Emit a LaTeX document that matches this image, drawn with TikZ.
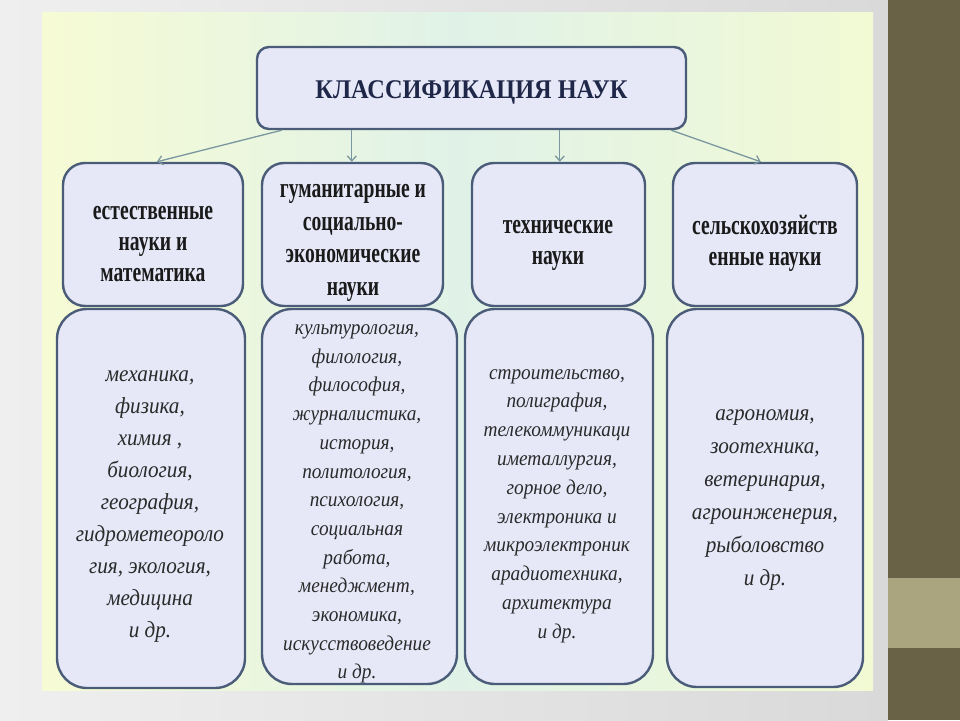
\documentclass[tikz,border=0pt]{standalone}
\usepackage{fontspec}
\setmainfont{Liberation Serif}
\newfontfamily\titlefont[FakeStretch=0.9]{Liberation Serif}
\newfontfamily\headfont[FakeStretch=0.7]{Liberation Serif}
\newfontfamily\listfont[FakeStretch=0.92]{Liberation Serif}
\usetikzlibrary{arrows.meta}
\definecolor{pageL}{HTML}{EFEFEF}
\definecolor{pageR}{HTML}{D9D9D9}
\definecolor{olive}{HTML}{6A6247}
\definecolor{strip}{HTML}{AAA57F}
\definecolor{panelL}{HTML}{F6FBD4}
\definecolor{panelM}{HTML}{E0F2E8}
\definecolor{panelR}{HTML}{F2FAD4}
\definecolor{boxc}{HTML}{E6E8F8}
\definecolor{bordc}{HTML}{4A5C78}
\definecolor{arrc}{HTML}{7A97A0}
\definecolor{titlec}{HTML}{1E2748}
\definecolor{headc}{HTML}{1A1A1A}
\definecolor{listc}{HTML}{2A2A2A}
\tikzset{
  panelbox/.style={draw=bordc, line width=2.4pt, fill=boxc, inner sep=0pt},
  titlebox/.style={panelbox, rounded corners=12pt, minimum width=429pt, minimum height=82pt},
  catbox/.style={panelbox, rounded corners=22pt, minimum height=143pt},
  listbox/.style={panelbox, rounded corners=30pt},
  headtext/.style={align=center, text=headc, font=\headfont\bfseries\fontsize{28}{31}\selectfont, inner sep=0pt},
  listtext/.style={align=center, text=listc, inner sep=0pt},
  arr/.style={draw=arrc, line width=1.3pt, -{Straight Barb[length=5pt,width=9pt]}}
}
\begin{document}
\begin{tikzpicture}[x=1pt,y=-1pt]
\useasboundingbox (0,0) rectangle (960,720);
% page background
\shade[left color=pageL, right color=pageR] (0,0) rectangle (888,720);
\fill[olive] (888,0) rectangle (960,720);
\fill[strip] (888,578) rectangle (960,648);
% slide panel
\shade[left color=panelL, right color=panelR, middle color=panelM] (42,12) rectangle (873,690);

% lower boxes
\node[listbox, minimum width=188pt, minimum height=379pt] (l1) at (151,498.5) {};
\node[listbox, minimum width=195pt, minimum height=375pt] (l2) at (359.5,496.5) {};
\node[listbox, minimum width=188pt, minimum height=375pt] (l3) at (559,496.5) {};
\node[listbox, minimum width=196pt, minimum height=378pt] (l4) at (765,498) {};

% category boxes
\node[catbox, minimum width=180pt] (c1) at (153,234.5) {};
\node[catbox, minimum width=181pt] (c2) at (352.5,234.5) {};
\node[catbox, minimum width=173pt] (c3) at (558.5,234.5) {};
\node[catbox, minimum width=184pt] (c4) at (765,234.5) {};

% title
\node[titlebox] (title) at (471.5,88) {};
\node[text=titlec, font=\titlefont\bfseries\fontsize{27}{30}\selectfont, inner sep=0pt] (ttext) at (471.5,92) {КЛАССИФИКАЦИЯ НАУК};

% arrows
\draw[arr] ([xshift=26pt]title.south west) -- ([xshift=95pt]c1.north west);
\draw[arr] ([xshift=96pt]title.south west) -- ([xshift=91pt]c2.north west);
\draw[arr] ([xshift=304pt]title.south west) -- ([xshift=89pt]c3.north west);
\draw[arr] ([xshift=-16pt]title.south east) -- ([xshift=89pt]c4.north west);

% headings
\node[headtext] (h1) at (153,244) {естественные\\науки и\\математика};
\node[headtext, font=\headfont\bfseries\fontsize{28}{32.5}\selectfont] (h2) at (353,243) {гуманитарные и\\социально-\\экономические\\науки};
\node[headtext] (h3) at (558,245) {технические\\науки};
\node[headtext] (h4) at (765,243) {сельскохозяйств\\енные науки};

% lists
\node[listtext, font=\listfont\itshape\fontsize{23}{32}\selectfont] (t1) at (150,507)
  {механика,\\физика,\\химия ,\\биология,\\география,\\гидрометеороло\\гия, экология,\\медицина\\и др.};
\node[listtext, font=\listfont\itshape\fontsize{21}{28.7}\selectfont] (t2) at (357,504)
  {культурология,\\филология,\\философия,\\журналистика,\\история,\\политология,\\психология,\\социальная\\работа,\\менеджмент,\\экономика,\\искусствоведение\\и др.};
\node[listtext, font=\listfont\itshape\fontsize{21}{28.8}\selectfont] (t3) at (557,506)
  {строительство,\\полиграфия,\\телекоммуникаци\\иметаллургия,\\горное дело,\\электроника и\\микроэлектроник\\арадиотехника,\\архитектура\\и др.};
\node[listtext, font=\listfont\itshape\fontsize{23}{33}\selectfont] (t4) at (765,500)
  {агрономия,\\зоотехника,\\ветеринария,\\агроинженерия,\\рыболовство\\и др.};
\end{tikzpicture}
\end{document}
